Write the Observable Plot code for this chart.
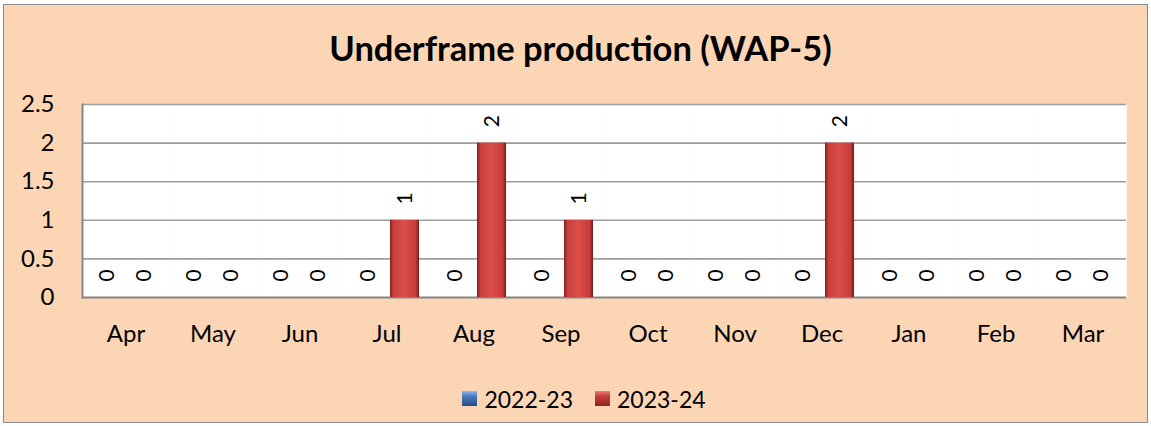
<!DOCTYPE html>
<html>
<head>
<meta charset="utf-8">
<script src="https://cdn.jsdelivr.net/npm/d3@7"></script>
<script src="https://cdn.jsdelivr.net/npm/@observablehq/plot@0.6"></script>
<style>
  html, body { margin: 0; padding: 0; background: #ffffff; }
  body { width: 1151px; height: 426px; position: relative; overflow: hidden; font-family: Lato, "Open Sans", sans-serif; }
  #frame { position: absolute; left: 3px; top: 4px; width: 1145px; height: 419px; box-sizing: border-box;
           border: 1.5px solid #8a8a8a; background: #FCD5B5; }
  #content { position: absolute; left: 0; top: 0; width: 1151px; }
  #title { padding-top: 27px; height: 41px; line-height: 41px; text-align: center; font-weight: bold;
           font-size: 34.5px; color: #000; padding-left: 10px; box-sizing: content-box; }
  #chart svg { display: block; }
  #legend { height: 66px; padding-top: 24px; box-sizing: border-box; text-align: center; padding-left: 17px;
            font-size: 23px; line-height: 26px; color: #000; }
  .item { display: inline-flex; align-items: center; margin: 0 11px; }
  .sw { width: 15px; height: 15px; margin-right: 7px; display: inline-block; }
</style>
</head>
<body>
<svg width="0" height="0" style="position:absolute">
  <defs>
    <linearGradient id="gRed" x1="0" x2="1" y1="0" y2="0">
      <stop offset="0%" stop-color="#7e1f1d"/>
      <stop offset="12%" stop-color="#c8403c"/>
      <stop offset="50%" stop-color="#db4d49"/>
      <stop offset="88%" stop-color="#c53c38"/>
      <stop offset="100%" stop-color="#741a18"/>
    </linearGradient>
    <linearGradient id="gBlue" x1="0" x2="1" y1="0" y2="0">
      <stop offset="0%" stop-color="#2c5590"/>
      <stop offset="12%" stop-color="#3f72b5"/>
      <stop offset="50%" stop-color="#4f81bd"/>
      <stop offset="88%" stop-color="#3c6dab"/>
      <stop offset="100%" stop-color="#264b80"/>
    </linearGradient>
    <linearGradient id="lgRed" x1="0" x2="0" y1="0" y2="1">
      <stop offset="0%" stop-color="#f07a76"/>
      <stop offset="35%" stop-color="#c9403d"/>
      <stop offset="100%" stop-color="#8a2422"/>
    </linearGradient>
    <linearGradient id="lgBlue" x1="0" x2="0" y1="0" y2="1">
      <stop offset="0%" stop-color="#8fb8ea"/>
      <stop offset="35%" stop-color="#4a7cc0"/>
      <stop offset="100%" stop-color="#244b86"/>
    </linearGradient>
  </defs>
</svg>
<div id="frame"></div>
<div id="content">
  <div id="title">Underframe production (WAP-5)</div>
  <div id="chart"></div>
  <div id="legend"></div>
</div>
<script>
const months = ["Apr", "May", "Jun", "Jul", "Aug", "Sep", "Oct", "Nov", "Dec", "Jan", "Feb", "Mar"];
const seriesNames = ["2022-23", "2023-24"];
const values2022_23 = [0, 0, 0, 0, 0, 0, 0, 0, 0, 0, 0, 0];
const values2023_24 = [0, 0, 0, 1, 2, 1, 0, 0, 2, 0, 0, 0];
const yTicks = [0, 0.5, 1, 1.5, 2, 2.5];
const seriesFills = ["url(#gBlue)", "url(#gRed)"];
const legendFills = ["url(#lgBlue)", "url(#lgRed)"];

const data = months.flatMap((m, i) => [
  {month: m, series: seriesNames[0], value: values2022_23[i]},
  {month: m, series: seriesNames[1], value: values2023_24[i]}
]);

const chart = Plot.plot({
  width: 1151,
  height: 292,
  marginLeft: 80,
  marginRight: 24,
  marginTop: 36,
  marginBottom: 63,
  style: {background: "transparent", fontFamily: "Lato, 'Open Sans', sans-serif", fontSize: "24px", color: "#000"},
  fx: {domain: months, padding: 0, label: null, tickSize: 0, tickPadding: 27, axis: "bottom"},
  x: {domain: seriesNames, axis: null, paddingInner: 0.21, paddingOuter: 0.253},
  y: {domain: [0, 2.5], ticks: yTicks, tickFormat: d => String(d), label: null, tickSize: 0, tickPadding: 28},
  color: {domain: seriesNames, range: seriesFills},
  marks: [
    Plot.frame({fill: "white", stroke: "white", strokeWidth: 0.6}),
    Plot.ruleY(yTicks.slice(1), {stroke: "#9d9d9d", strokeWidth: 1.6}),
    Plot.ruleY([0], {stroke: "#868686", strokeWidth: 2}),
    Plot.frame({anchor: "left", facetAnchor: "left", stroke: "#868686", strokeWidth: 2}),
    Plot.barY(data, {fx: "month", x: "series", y: "value", fill: "series"}),
    Plot.text(data, {fx: "month", x: "series", y: "value", text: d => String(d.value), rotate: -90,
                     dy: -22, fontSize: 21, fill: "#000"})
  ]
});
document.getElementById("chart").appendChild(chart);

const legend = document.getElementById("legend");
seriesNames.forEach((s, i) => {
  const item = document.createElement("span");
  item.className = "item";
  item.innerHTML = `<svg class="sw" width="15" height="15"><rect width="15" height="15" fill="${legendFills[i]}"/></svg><span>${s}</span>`;
  legend.appendChild(item);
});
</script>
</body>
</html>
